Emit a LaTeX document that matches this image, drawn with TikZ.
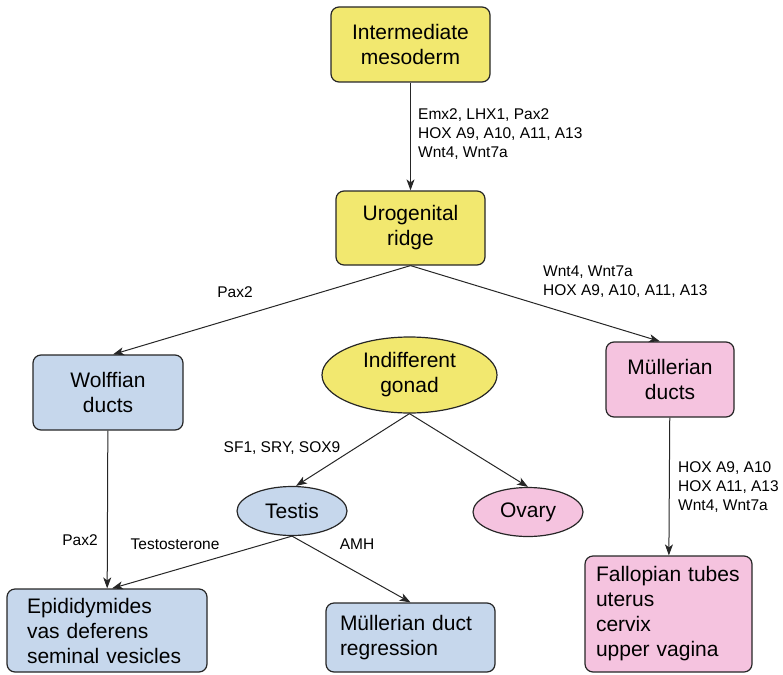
\documentclass[tikz,border=0pt]{standalone}
\usepackage{fontspec}
\setmainfont{Liberation Sans}
\usepackage{xcolor}
\usetikzlibrary{shapes.geometric, arrows.meta, positioning}

\definecolor{mesoyellow}{HTML}{F2E86F}
\definecolor{maleblue}{HTML}{C6D7EC}
\definecolor{femalepink}{HTML}{F5C3DF}

\begin{document}
\begin{tikzpicture}[x=1pt, y=-1pt,
    box/.style={draw=black!85, line width=1.2pt, rounded corners=8pt, inner sep=0pt,
        align=center, font=\fontsize{21}{25}\selectfont},
    blob/.style={draw=black!85, line width=1.2pt, ellipse, inner sep=0pt,
        align=center, font=\fontsize{21}{25}\selectfont},
    flow/.style={draw=black!85, line width=1pt, -{Stealth[length=11pt, width=8pt, inset=3pt]}},
    gene/.style={inner sep=0pt, align=left, font=\fontsize{15.5}{19}\selectfont}]
    \useasboundingbox (0,0) rectangle (783,674);

    % Top: mesoderm and ridge
    \node[box, fill=mesoyellow, minimum width=159pt, minimum height=75pt] (meso) at (410.5,44.5) {Intermediate\\mesoderm};
    \node[box, fill=mesoyellow, minimum width=149pt, minimum height=74pt] (ridge) at (410.5,228) {Urogenital\\ridge};

    % Ducts
    \node[box, fill=maleblue, minimum width=150pt, minimum height=75pt] (wolff) at (108,392.5) {Wolffian\\ducts};
    \node[box, fill=femalepink, minimum width=128pt, minimum height=75pt] (mull) at (670,379.5) {Müllerian\\ducts};

    % Gonads
    \node[blob, fill=mesoyellow, minimum width=175pt, minimum height=76pt] (gonad) at (409.5,375) {Indifferent\\gonad};
    \node[blob, fill=maleblue, minimum width=110pt, minimum height=49pt] (testis) at (292,511) {Testis};
    \node[blob, fill=femalepink, minimum width=110pt, minimum height=49pt] (ovary) at (528,512) {Ovary};

    % Outcomes
    \node[box, fill=maleblue, minimum width=200pt, minimum height=83pt, text width=160pt, align=left] (epid) at (107,630.5) {Epididymides\\vas deferens\\seminal vesicles};
    \node[box, fill=maleblue, minimum width=169pt, minimum height=69pt, text width=141pt, align=left] (regress) at (410.5,637.5) {Müllerian duct\\regression};
    \node[box, fill=femalepink, minimum width=167pt, minimum height=116pt, text width=145pt, align=left] (fallop) at (668.5,614) {Fallopian tubes\\uterus\\cervix\\upper vagina};

    % Connectors
    \draw[flow] (meso) -- (ridge);
    \draw[flow] (ridge.south) -- ([xshift=5pt]wolff.north);
    \draw[flow] (ridge.south) -- ([xshift=-10pt]mull.north);
    \draw[flow] (gonad.south) -- ([xshift=4pt]testis.north);
    \draw[flow] (gonad.south) -- (ovary.north);
    \draw[flow] (wolff) -- (epid);
    \draw[flow] (testis.south) -- ([xshift=5pt]epid.north);
    \draw[flow] (testis.south) -- (regress.north);
    \draw[flow] (mull) -- (fallop);

    % Gene labels
    \node[gene, anchor=west] (lblmeso) at (418,134) {Emx2, LHX1, Pax2\\HOX A9, A10, A11, A13\\Wnt4, Wnt7a};
    \node[gene] (lblwolff) at (235,292) {Pax2};
    \node[gene, anchor=west] (lblmull) at (543,282) {Wnt4, Wnt7a\\HOX A9, A10, A11, A13};
    \node[gene] (lblsex) at (282,448) {SF1, SRY, SOX9};
    \node[gene] (lblpax) at (80,540) {Pax2};
    \node[gene] (lbltesto) at (175,544) {Testosterone};
    \node[gene] (lblamh) at (357,544) {AMH};
    \node[gene, anchor=west] (lblfallop) at (678,487) {HOX A9, A10\\HOX A11, A13\\Wnt4, Wnt7a};
\end{tikzpicture}
\end{document}
